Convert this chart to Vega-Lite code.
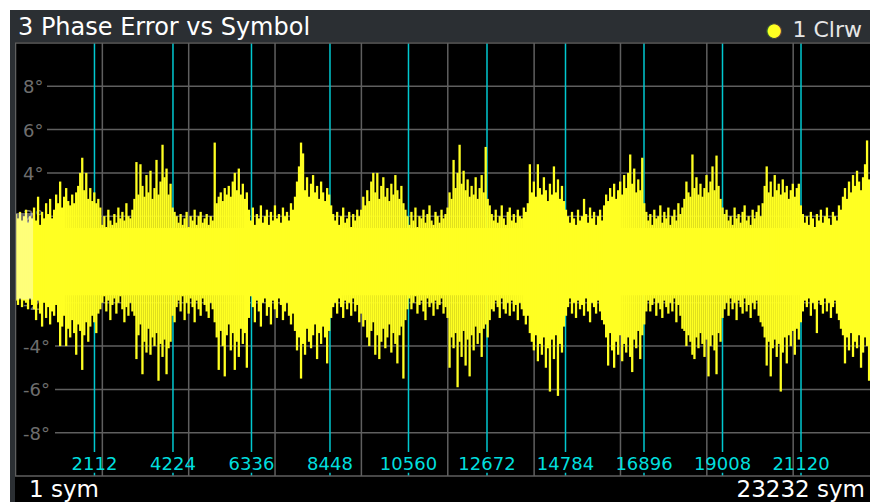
{
  "$schema": "https://vega.github.io/schema/vega-lite/v6.json",
  "background": "#ffffff",
  "padding": {"left": 10, "top": 10, "right": 0, "bottom": 0},
  "config": {"view": {"stroke": null}, "font": "DejaVu Sans"},
  "spacing": 0,
  "bounds": "flush",
  "datasets": {
    "hgrid": [
      {"deg": 8, "label": "8°"}, {"deg": 6, "label": "6°"}, {"deg": 4, "label": "4°"}, {"deg": 2, "label": "2°"}, {"deg": 0, "label": "0°"},
      {"deg": -2, "label": "-2°"}, {"deg": -4, "label": "-4°"}, {"deg": -6, "label": "-6°"}, {"deg": -8, "label": "-8°"}
    ],
    "vgrid": [{"sym": 2324}, {"sym": 4647}, {"sym": 6970}, {"sym": 9293}, {"sym": 11617}, {"sym": 13940}, {"sym": 16263}, {"sym": 18586}, {"sym": 20909}],
    "markers": [{"sym": 2112}, {"sym": 4224}, {"sym": 6336}, {"sym": 8448}, {"sym": 10560}, {"sym": 12672}, {"sym": 14784}, {"sym": 16896}, {"sym": 19008}, {"sym": 21120}],
    "trace": [
      {"sym":1,"hi":2.1,"lo":-1.9},{"sym":55,"hi":1.9,"lo":-2.1},{"sym":109,"hi":2.2,"lo":-1.8},{"sym":163,"hi":1.8,"lo":-2.2},{"sym":217,"hi":2.0,"lo":-1.9},{"sym":271,"hi":2.3,"lo":-2.0},{"sym":325,"hi":1.7,"lo":-2.3},{"sym":379,"hi":2.0,"lo":-1.8},{"sym":433,"hi":1.9,"lo":-2.1},{"sym":487,"hi":2.4,"lo":-2.3},
      {"sym":541,"hi":1.8,"lo":-2.8},{"sym":595,"hi":2.9,"lo":-1.9},{"sym":649,"hi":1.6,"lo":-2.5},{"sym":703,"hi":2.2,"lo":-3.1},{"sym":757,"hi":1.9,"lo":-2.0},{"sym":811,"hi":2.6,"lo":-2.7},{"sym":865,"hi":2.1,"lo":-2.2},{"sym":919,"hi":2.8,"lo":-3.0},{"sym":973,"hi":1.9,"lo":-2.4},{"sym":1027,"hi":2.3,"lo":-2.6},
      {"sym":1081,"hi":3.0,"lo":-2.1},{"sym":1135,"hi":2.6,"lo":-2.9},{"sym":1189,"hi":3.6,"lo":-4.0},{"sym":1243,"hi":2.4,"lo":-3.1},{"sym":1297,"hi":2.9,"lo":-2.6},{"sym":1351,"hi":3.3,"lo":-4.0},{"sym":1405,"hi":2.7,"lo":-3.2},{"sym":1459,"hi":2.5,"lo":-3.6},{"sym":1513,"hi":3.0,"lo":-2.8},{"sym":1567,"hi":2.6,"lo":-3.4},
      {"sym":1621,"hi":3.1,"lo":-4.4},{"sym":1675,"hi":3.4,"lo":-3.0},{"sym":1729,"hi":4.0,"lo":-3.3},{"sym":1783,"hi":4.7,"lo":-5.1},{"sym":1837,"hi":3.2,"lo":-3.5},{"sym":1891,"hi":4.0,"lo":-2.9},{"sym":1945,"hi":2.8,"lo":-3.8},{"sym":1999,"hi":3.3,"lo":-3.1},{"sym":2053,"hi":2.7,"lo":-2.6},{"sym":2107,"hi":3.1,"lo":-2.9},
      {"sym":2161,"hi":2.6,"lo":-3.4},{"sym":2215,"hi":2.8,"lo":-2.5},{"sym":2269,"hi":2.4,"lo":-2.3},{"sym":2323,"hi":1.6,"lo":-2.0},{"sym":2377,"hi":2.0,"lo":-1.7},{"sym":2431,"hi":1.5,"lo":-2.4},{"sym":2485,"hi":2.3,"lo":-1.9},{"sym":2539,"hi":1.8,"lo":-2.8},{"sym":2593,"hi":1.6,"lo":-2.1},{"sym":2647,"hi":2.1,"lo":-1.8},
      {"sym":2701,"hi":1.7,"lo":-2.5},{"sym":2755,"hi":2.4,"lo":-2.0},{"sym":2809,"hi":1.9,"lo":-1.7},{"sym":2863,"hi":2.2,"lo":-2.3},{"sym":2917,"hi":1.8,"lo":-2.9},{"sym":2971,"hi":2.6,"lo":-2.2},{"sym":3025,"hi":2.0,"lo":-2.6},{"sym":3079,"hi":1.9,"lo":-2.0},{"sym":3133,"hi":2.3,"lo":-2.4},{"sym":3187,"hi":2.8,"lo":-2.6},
      {"sym":3241,"hi":4.5,"lo":-4.6},{"sym":3295,"hi":3.0,"lo":-3.5},{"sym":3349,"hi":4.4,"lo":-3.0},{"sym":3403,"hi":3.4,"lo":-5.3},{"sym":3457,"hi":2.9,"lo":-3.8},{"sym":3511,"hi":3.9,"lo":-4.3},{"sym":3565,"hi":3.1,"lo":-3.2},{"sym":3619,"hi":4.1,"lo":-4.4},{"sym":3673,"hi":2.8,"lo":-3.6},{"sym":3727,"hi":3.3,"lo":-4.0},
      {"sym":3781,"hi":4.6,"lo":-3.4},{"sym":3835,"hi":3.0,"lo":-5.6},{"sym":3889,"hi":3.6,"lo":-3.9},{"sym":3943,"hi":5.3,"lo":-4.5},{"sym":3997,"hi":3.8,"lo":-3.7},{"sym":4051,"hi":4.2,"lo":-5.3},{"sym":4105,"hi":3.0,"lo":-4.1},{"sym":4159,"hi":3.5,"lo":-3.8},{"sym":4213,"hi":2.4,"lo":-2.6},{"sym":4267,"hi":2.2,"lo":-2.9},
      {"sym":4321,"hi":2.0,"lo":-2.2},{"sym":4375,"hi":1.7,"lo":-1.9},{"sym":4429,"hi":2.1,"lo":-2.4},{"sym":4483,"hi":1.6,"lo":-1.7},{"sym":4537,"hi":1.9,"lo":-2.8},{"sym":4591,"hi":2.2,"lo":-2.0},{"sym":4645,"hi":1.5,"lo":-2.5},{"sym":4699,"hi":2.0,"lo":-1.8},{"sym":4753,"hi":1.8,"lo":-2.2},{"sym":4807,"hi":2.3,"lo":-2.9},
      {"sym":4861,"hi":1.6,"lo":-1.9},{"sym":4915,"hi":2.0,"lo":-2.3},{"sym":4969,"hi":2.2,"lo":-2.6},{"sym":5023,"hi":1.7,"lo":-1.8},{"sym":5077,"hi":1.9,"lo":-2.1},{"sym":5131,"hi":2.1,"lo":-2.4},{"sym":5185,"hi":1.6,"lo":-2.7},{"sym":5239,"hi":2.0,"lo":-2.0},{"sym":5293,"hi":1.8,"lo":-2.3},{"sym":5347,"hi":5.4,"lo":-2.9},
      {"sym":5401,"hi":2.6,"lo":-3.6},{"sym":5455,"hi":2.9,"lo":-5.1},{"sym":5509,"hi":3.1,"lo":-3.3},{"sym":5563,"hi":2.7,"lo":-4.0},{"sym":5617,"hi":3.3,"lo":-5.4},{"sym":5671,"hi":3.0,"lo":-3.5},{"sym":5725,"hi":3.4,"lo":-3.0},{"sym":5779,"hi":2.9,"lo":-4.2},{"sym":5833,"hi":3.6,"lo":-3.4},{"sym":5887,"hi":4.0,"lo":-5.1},
      {"sym":5941,"hi":3.2,"lo":-3.8},{"sym":5995,"hi":4.2,"lo":-4.5},{"sym":6049,"hi":3.0,"lo":-3.2},{"sym":6103,"hi":3.5,"lo":-3.9},{"sym":6157,"hi":2.8,"lo":-3.4},{"sym":6211,"hi":3.1,"lo":-5.0},{"sym":6265,"hi":2.3,"lo":-2.7},{"sym":6319,"hi":1.8,"lo":-1.7},{"sym":6373,"hi":2.4,"lo":-2.2},{"sym":6427,"hi":1.6,"lo":-2.9},
      {"sym":6481,"hi":2.1,"lo":-1.9},{"sym":6535,"hi":1.9,"lo":-2.4},{"sym":6589,"hi":2.5,"lo":-3.1},{"sym":6643,"hi":1.7,"lo":-2.0},{"sym":6697,"hi":2.0,"lo":-1.8},{"sym":6751,"hi":2.3,"lo":-2.6},{"sym":6805,"hi":1.6,"lo":-2.2},{"sym":6859,"hi":2.2,"lo":-3.0},{"sym":6913,"hi":1.8,"lo":-1.9},{"sym":6967,"hi":2.5,"lo":-2.3},
      {"sym":7021,"hi":1.9,"lo":-2.7},{"sym":7075,"hi":2.1,"lo":-1.8},{"sym":7129,"hi":1.7,"lo":-2.1},{"sym":7183,"hi":2.4,"lo":-2.8},{"sym":7237,"hi":2.0,"lo":-2.4},{"sym":7291,"hi":2.2,"lo":-2.0},{"sym":7345,"hi":1.8,"lo":-2.6},{"sym":7399,"hi":2.6,"lo":-3.0},{"sym":7453,"hi":2.3,"lo":-2.5},{"sym":7507,"hi":2.9,"lo":-3.3},
      {"sym":7561,"hi":3.6,"lo":-4.2},{"sym":7615,"hi":4.3,"lo":-3.6},{"sym":7669,"hi":5.4,"lo":-5.5},{"sym":7723,"hi":4.9,"lo":-3.9},{"sym":7777,"hi":3.2,"lo":-4.4},{"sym":7831,"hi":3.8,"lo":-3.2},{"sym":7885,"hi":2.9,"lo":-3.8},{"sym":7939,"hi":3.5,"lo":-4.1},{"sym":7993,"hi":3.9,"lo":-3.5},{"sym":8047,"hi":3.1,"lo":-3.0},
      {"sym":8101,"hi":3.4,"lo":-4.6},{"sym":8155,"hi":2.8,"lo":-3.4},{"sym":8209,"hi":3.6,"lo":-3.9},{"sym":8263,"hi":3.1,"lo":-3.1},{"sym":8317,"hi":2.7,"lo":-3.6},{"sym":8371,"hi":3.3,"lo":-4.8},{"sym":8425,"hi":3.0,"lo":-3.3},{"sym":8479,"hi":2.5,"lo":-2.7},{"sym":8533,"hi":2.1,"lo":-2.2},{"sym":8587,"hi":1.8,"lo":-2.0},
      {"sym":8641,"hi":2.2,"lo":-2.5},{"sym":8695,"hi":1.6,"lo":-1.8},{"sym":8749,"hi":2.0,"lo":-2.2},{"sym":8803,"hi":2.4,"lo":-2.7},{"sym":8857,"hi":1.7,"lo":-1.9},{"sym":8911,"hi":1.9,"lo":-2.3},{"sym":8965,"hi":2.2,"lo":-2.0},{"sym":9019,"hi":1.5,"lo":-2.6},{"sym":9073,"hi":2.1,"lo":-1.8},{"sym":9127,"hi":1.8,"lo":-2.4},
      {"sym":9181,"hi":2.3,"lo":-2.1},{"sym":9235,"hi":2.0,"lo":-2.9},{"sym":9289,"hi":2.3,"lo":-2.5},{"sym":9343,"hi":2.9,"lo":-3.1},{"sym":9397,"hi":2.5,"lo":-2.8},{"sym":9451,"hi":3.2,"lo":-3.6},{"sym":9505,"hi":2.7,"lo":-4.0},{"sym":9559,"hi":3.6,"lo":-3.3},{"sym":9613,"hi":4.0,"lo":-2.9},{"sym":9667,"hi":3.1,"lo":-4.4},
      {"sym":9721,"hi":4.0,"lo":-3.5},{"sym":9775,"hi":2.8,"lo":-4.6},{"sym":9829,"hi":3.4,"lo":-3.8},{"sym":9883,"hi":3.8,"lo":-3.2},{"sym":9937,"hi":2.9,"lo":-4.1},{"sym":9991,"hi":3.3,"lo":-3.6},{"sym":10045,"hi":2.7,"lo":-3.0},{"sym":10099,"hi":3.5,"lo":-4.3},{"sym":10153,"hi":3.0,"lo":-3.4},{"sym":10207,"hi":3.9,"lo":-3.9},
      {"sym":10261,"hi":3.2,"lo":-4.8},{"sym":10315,"hi":2.8,"lo":-3.5},{"sym":10369,"hi":3.4,"lo":-3.1},{"sym":10423,"hi":2.6,"lo":-5.5},{"sym":10477,"hi":2.3,"lo":-2.8},{"sym":10531,"hi":2.0,"lo":-2.3},{"sym":10585,"hi":1.6,"lo":-1.8},{"sym":10639,"hi":2.2,"lo":-2.3},{"sym":10693,"hi":1.8,"lo":-2.0},{"sym":10747,"hi":2.4,"lo":-1.7},
      {"sym":10801,"hi":1.5,"lo":-2.5},{"sym":10855,"hi":2.0,"lo":-2.1},{"sym":10909,"hi":1.9,"lo":-1.9},{"sym":10963,"hi":2.3,"lo":-2.4},{"sym":11017,"hi":1.7,"lo":-2.8},{"sym":11071,"hi":2.1,"lo":-1.8},{"sym":11125,"hi":2.5,"lo":-2.2},{"sym":11179,"hi":1.8,"lo":-2.0},{"sym":11233,"hi":1.6,"lo":-2.6},{"sym":11287,"hi":2.2,"lo":-1.9},
      {"sym":11341,"hi":2.0,"lo":-2.3},{"sym":11395,"hi":1.7,"lo":-2.1},{"sym":11449,"hi":2.3,"lo":-1.8},{"sym":11503,"hi":1.9,"lo":-2.5},{"sym":11557,"hi":2.1,"lo":-2.2},{"sym":11611,"hi":2.4,"lo":-2.7},{"sym":11665,"hi":3.1,"lo":-5.0},{"sym":11719,"hi":2.8,"lo":-3.6},{"sym":11773,"hi":4.6,"lo":-4.1},{"sym":11827,"hi":3.3,"lo":-3.4},
      {"sym":11881,"hi":4.0,"lo":-5.9},{"sym":11935,"hi":5.3,"lo":-3.8},{"sym":11989,"hi":3.5,"lo":-4.5},{"sym":12043,"hi":4.1,"lo":-3.3},{"sym":12097,"hi":3.2,"lo":-4.9},{"sym":12151,"hi":3.7,"lo":-3.7},{"sym":12205,"hi":2.9,"lo":-5.4},{"sym":12259,"hi":3.4,"lo":-3.5},{"sym":12313,"hi":3.0,"lo":-4.2},{"sym":12367,"hi":3.8,"lo":-3.1},
      {"sym":12421,"hi":2.8,"lo":-3.9},{"sym":12475,"hi":3.3,"lo":-3.4},{"sym":12529,"hi":3.9,"lo":-4.5},{"sym":12583,"hi":3.1,"lo":-3.2},{"sym":12637,"hi":5.2,"lo":-3.0},{"sym":12691,"hi":2.8,"lo":-3.6},{"sym":12745,"hi":2.5,"lo":-2.8},{"sym":12799,"hi":2.1,"lo":-2.3},{"sym":12853,"hi":1.8,"lo":-2.4},{"sym":12907,"hi":2.3,"lo":-1.9},
      {"sym":12961,"hi":1.7,"lo":-2.2},{"sym":13015,"hi":2.0,"lo":-2.7},{"sym":13069,"hi":2.5,"lo":-1.8},{"sym":13123,"hi":1.9,"lo":-2.3},{"sym":13177,"hi":1.6,"lo":-2.5},{"sym":13231,"hi":2.2,"lo":-2.0},{"sym":13285,"hi":2.4,"lo":-2.6},{"sym":13339,"hi":1.8,"lo":-1.9},{"sym":13393,"hi":2.1,"lo":-2.4},{"sym":13447,"hi":1.7,"lo":-2.1},
      {"sym":13501,"hi":2.3,"lo":-2.8},{"sym":13555,"hi":2.0,"lo":-2.0},{"sym":13609,"hi":1.9,"lo":-2.3},{"sym":13663,"hi":2.4,"lo":-2.6},{"sym":13717,"hi":2.2,"lo":-3.0},{"sym":13771,"hi":2.6,"lo":-2.6},{"sym":13825,"hi":4.4,"lo":-3.4},{"sym":13879,"hi":3.1,"lo":-3.8},{"sym":13933,"hi":3.6,"lo":-4.2},{"sym":13987,"hi":2.9,"lo":-3.5},
      {"sym":14041,"hi":4.4,"lo":-4.7},{"sym":14095,"hi":3.3,"lo":-3.9},{"sym":14149,"hi":3.0,"lo":-4.4},{"sym":14203,"hi":3.8,"lo":-3.6},{"sym":14257,"hi":3.2,"lo":-5.0},{"sym":14311,"hi":2.7,"lo":-4.1},{"sym":14365,"hi":3.5,"lo":-6.1},{"sym":14419,"hi":3.0,"lo":-3.7},{"sym":14473,"hi":4.3,"lo":-4.6},{"sym":14527,"hi":3.1,"lo":-3.5},
      {"sym":14581,"hi":3.7,"lo":-6.3},{"sym":14635,"hi":2.8,"lo":-3.9},{"sym":14689,"hi":3.4,"lo":-4.3},{"sym":14743,"hi":2.7,"lo":-3.1},{"sym":14797,"hi":2.3,"lo":-2.6},{"sym":14851,"hi":2.0,"lo":-2.2},{"sym":14905,"hi":1.7,"lo":-1.8},{"sym":14959,"hi":2.2,"lo":-2.5},{"sym":15013,"hi":1.9,"lo":-2.0},{"sym":15067,"hi":1.6,"lo":-2.7},
      {"sym":15121,"hi":2.3,"lo":-1.9},{"sym":15175,"hi":1.8,"lo":-2.3},{"sym":15229,"hi":2.0,"lo":-2.1},{"sym":15283,"hi":2.8,"lo":-2.6},{"sym":15337,"hi":2.1,"lo":-1.8},{"sym":15391,"hi":1.7,"lo":-2.4},{"sym":15445,"hi":2.4,"lo":-2.9},{"sym":15499,"hi":1.9,"lo":-2.0},{"sym":15553,"hi":2.2,"lo":-2.2},{"sym":15607,"hi":1.6,"lo":-2.5},
      {"sym":15661,"hi":2.0,"lo":-1.9},{"sym":15715,"hi":2.3,"lo":-2.4},{"sym":15769,"hi":1.8,"lo":-2.8},{"sym":15823,"hi":2.5,"lo":-3.0},{"sym":15877,"hi":3.0,"lo":-3.6},{"sym":15931,"hi":2.7,"lo":-4.9},{"sym":15985,"hi":3.3,"lo":-3.4},{"sym":16039,"hi":2.9,"lo":-4.2},{"sym":16093,"hi":3.5,"lo":-5.0},{"sym":16147,"hi":2.8,"lo":-3.8},
      {"sym":16201,"hi":3.2,"lo":-4.4},{"sym":16255,"hi":3.6,"lo":-3.5},{"sym":16309,"hi":3.0,"lo":-4.7},{"sym":16363,"hi":3.9,"lo":-3.9},{"sym":16417,"hi":3.3,"lo":-4.3},{"sym":16471,"hi":4.0,"lo":-3.6},{"sym":16525,"hi":4.85,"lo":-4.5},{"sym":16579,"hi":3.5,"lo":-5.2},{"sym":16633,"hi":4.2,"lo":-3.7},{"sym":16687,"hi":3.1,"lo":-4.1},
      {"sym":16741,"hi":3.7,"lo":-3.3},{"sym":16795,"hi":3.2,"lo":-4.6},{"sym":16849,"hi":4.7,"lo":-3.5},{"sym":16903,"hi":2.6,"lo":-3.0},{"sym":16957,"hi":2.2,"lo":-2.4},{"sym":17011,"hi":1.8,"lo":-1.9},{"sym":17065,"hi":2.1,"lo":-2.4},{"sym":17119,"hi":1.6,"lo":-2.1},{"sym":17173,"hi":2.3,"lo":-1.8},{"sym":17227,"hi":1.9,"lo":-2.6},
      {"sym":17281,"hi":2.0,"lo":-2.0},{"sym":17335,"hi":2.5,"lo":-2.3},{"sym":17389,"hi":1.7,"lo":-2.7},{"sym":17443,"hi":2.2,"lo":-1.9},{"sym":17497,"hi":1.9,"lo":-2.2},{"sym":17551,"hi":2.4,"lo":-2.5},{"sym":17605,"hi":1.6,"lo":-2.0},{"sym":17659,"hi":2.0,"lo":-2.4},{"sym":17713,"hi":2.3,"lo":-1.8},{"sym":17767,"hi":1.8,"lo":-2.9},
      {"sym":17821,"hi":2.6,"lo":-2.1},{"sym":17875,"hi":2.1,"lo":-2.6},{"sym":17929,"hi":2.4,"lo":-3.2},{"sym":17983,"hi":2.8,"lo":-3.3},{"sym":18037,"hi":3.6,"lo":-4.0},{"sym":18091,"hi":3.1,"lo":-3.5},{"sym":18145,"hi":2.9,"lo":-3.8},{"sym":18199,"hi":4.85,"lo":-4.4},{"sym":18253,"hi":3.3,"lo":-4.6},{"sym":18307,"hi":3.8,"lo":-3.6},
      {"sym":18361,"hi":3.0,"lo":-4.1},{"sym":18415,"hi":3.5,"lo":-3.4},{"sym":18469,"hi":2.9,"lo":-3.9},{"sym":18523,"hi":3.3,"lo":-4.5},{"sym":18577,"hi":3.9,"lo":-3.7},{"sym":18631,"hi":3.1,"lo":-5.4},{"sym":18685,"hi":3.6,"lo":-4.0},{"sym":18739,"hi":4.3,"lo":-3.5},{"sym":18793,"hi":3.2,"lo":-4.2},{"sym":18847,"hi":4.8,"lo":-5.3},
      {"sym":18901,"hi":3.4,"lo":-3.4},{"sym":18955,"hi":2.8,"lo":-3.8},{"sym":19009,"hi":2.4,"lo":-2.7},{"sym":19063,"hi":2.1,"lo":-2.3},{"sym":19117,"hi":2.3,"lo":-2.0},{"sym":19171,"hi":1.8,"lo":-2.6},{"sym":19225,"hi":2.0,"lo":-1.8},{"sym":19279,"hi":1.6,"lo":-2.3},{"sym":19333,"hi":2.4,"lo":-2.0},{"sym":19387,"hi":1.9,"lo":-2.8},
      {"sym":19441,"hi":2.1,"lo":-1.9},{"sym":19495,"hi":1.7,"lo":-2.2},{"sym":19549,"hi":2.2,"lo":-2.5},{"sym":19603,"hi":2.5,"lo":-1.8},{"sym":19657,"hi":1.8,"lo":-2.4},{"sym":19711,"hi":2.0,"lo":-2.1},{"sym":19765,"hi":1.6,"lo":-2.7},{"sym":19819,"hi":2.3,"lo":-2.0},{"sym":19873,"hi":1.9,"lo":-2.3},{"sym":19927,"hi":2.2,"lo":-1.9},
      {"sym":19981,"hi":2.5,"lo":-2.6},{"sym":20035,"hi":2.0,"lo":-2.9},{"sym":20089,"hi":2.6,"lo":-3.1},{"sym":20143,"hi":3.4,"lo":-3.6},{"sym":20197,"hi":4.3,"lo":-4.9},{"sym":20251,"hi":3.1,"lo":-3.8},{"sym":20305,"hi":3.6,"lo":-5.4},{"sym":20359,"hi":2.9,"lo":-4.1},{"sym":20413,"hi":3.9,"lo":-3.7},{"sym":20467,"hi":3.2,"lo":-4.5},
      {"sym":20521,"hi":3.5,"lo":-3.9},{"sym":20575,"hi":3.0,"lo":-6.1},{"sym":20629,"hi":3.7,"lo":-4.3},{"sym":20683,"hi":3.1,"lo":-3.6},{"sym":20737,"hi":3.4,"lo":-4.8},{"sym":20791,"hi":2.8,"lo":-3.5},{"sym":20845,"hi":3.2,"lo":-4.0},{"sym":20899,"hi":3.5,"lo":-3.3},{"sym":20953,"hi":2.9,"lo":-4.4},{"sym":21007,"hi":3.3,"lo":-3.2},
      {"sym":21061,"hi":3.5,"lo":-3.7},{"sym":21115,"hi":2.5,"lo":-2.9},{"sym":21169,"hi":2.1,"lo":-2.4},{"sym":21223,"hi":1.7,"lo":-1.9},{"sym":21277,"hi":2.0,"lo":-2.2},{"sym":21331,"hi":1.6,"lo":-1.8},{"sym":21385,"hi":2.2,"lo":-2.6},{"sym":21439,"hi":1.9,"lo":-2.0},{"sym":21493,"hi":1.5,"lo":-2.3},{"sym":21547,"hi":2.1,"lo":-3.4},
      {"sym":21601,"hi":1.8,"lo":-1.9},{"sym":21655,"hi":2.3,"lo":-2.1},{"sym":21709,"hi":1.7,"lo":-2.5},{"sym":21763,"hi":2.0,"lo":-1.8},{"sym":21817,"hi":2.4,"lo":-2.4},{"sym":21871,"hi":1.9,"lo":-2.0},{"sym":21925,"hi":1.6,"lo":-2.7},{"sym":21979,"hi":2.2,"lo":-2.2},{"sym":22033,"hi":2.0,"lo":-1.9},{"sym":22087,"hi":1.8,"lo":-2.5},
      {"sym":22141,"hi":2.5,"lo":-2.8},{"sym":22195,"hi":2.3,"lo":-3.2},{"sym":22249,"hi":2.9,"lo":-3.5},{"sym":22303,"hi":3.3,"lo":-4.8},{"sym":22357,"hi":2.8,"lo":-3.6},{"sym":22411,"hi":3.6,"lo":-4.2},{"sym":22465,"hi":3.1,"lo":-3.4},{"sym":22519,"hi":3.9,"lo":-4.5},{"sym":22573,"hi":3.4,"lo":-3.8},{"sym":22627,"hi":4.1,"lo":-4.1},
      {"sym":22681,"hi":3.6,"lo":-3.5},{"sym":22735,"hi":3.2,"lo":-5.0},{"sym":22789,"hi":3.8,"lo":-4.3},{"sym":22843,"hi":4.4,"lo":-3.6},{"sym":22897,"hi":5.5,"lo":-4.0},{"sym":22951,"hi":3.7,"lo":-5.6},{"sym":23005,"hi":3.3,"lo":-3.9}
    ]
  },
  "vconcat": [
    {
      "width": 860,
      "height": 32,
      "view": {"fill": "#2b2f33", "stroke": null},
      "layer": [
        {
          "data": {"values": [{"t": "3 Phase Error vs Symbol"}]},
          "mark": {"type": "text", "align": "left", "baseline": "alphabetic", "dx": 8, "dy": -7, "fontSize": 24, "color": "#ffffff"},
          "encoding": {
            "x": {"datum": 0, "type": "quantitative", "scale": {"domain": [0, 1], "nice": false, "zero": false}, "axis": null},
            "y": {"datum": 0, "type": "quantitative", "scale": {"domain": [0, 1], "nice": false, "zero": false}, "axis": null},
            "text": {"field": "t"}
          }
        },
        {
          "data": {"values": [{"t": "●"}]},
          "mark": {"type": "text", "align": "center", "baseline": "middle", "dx": -96, "dy": -12, "fontSize": 19, "color": "#ffff22", "stroke": "#3a3a3a", "strokeWidth": 1},
          "encoding": {
            "x": {"datum": 1, "type": "quantitative", "scale": {"domain": [0, 1], "nice": false, "zero": false}, "axis": null},
            "y": {"datum": 0, "type": "quantitative", "scale": {"domain": [0, 1], "nice": false, "zero": false}, "axis": null},
            "text": {"field": "t"}
          }
        },
        {
          "data": {"values": [{"t": "1 Clrw"}]},
          "mark": {"type": "text", "align": "right", "baseline": "alphabetic", "dx": -8, "dy": -5.5, "fontSize": 22, "color": "#e6e6e6"},
          "encoding": {
            "x": {"datum": 1, "type": "quantitative", "scale": {"domain": [0, 1], "nice": false, "zero": false}, "axis": null},
            "y": {"datum": 0, "type": "quantitative", "scale": {"domain": [0, 1], "nice": false, "zero": false}, "axis": null},
            "text": {"field": "t"}
          }
        }
      ]
    },
    {
      "spacing": 0,
      "bounds": "flush",
      "hconcat": [
        {
          "width": 5,
          "height": 460,
          "view": {"fill": "#2b2f33", "stroke": null},
          "data": {"values": [{}]},
          "mark": {"type": "text", "text": ""}
        },
        {
          "width": 855,
          "height": 460,
          "view": {"fill": "#000000", "stroke": null},
          "layer": [
            {
              "data": {"name": "hgrid"},
              "transform": [{"filter": "datum.deg >= 0"}],
              "mark": {"type": "rule", "color": "#5f5f5f", "strokeWidth": 1.5, "clip": true},
              "encoding": {
                "x": {"datum": 835, "type": "quantitative", "scale": {"domain": [-26, 22976], "nice": false, "zero": false}, "axis": null},
                "x2": {"datum": 22976},
                "y": {"field": "deg", "type": "quantitative", "scale": {"domain": [-11.201, 10.046], "nice": false, "zero": false}, "axis": null}
              }
            },
            {
              "data": {"name": "hgrid"},
              "transform": [{"filter": "datum.deg < 0"}],
              "mark": {"type": "rule", "color": "#5f5f5f", "strokeWidth": 1.5, "clip": true},
              "encoding": {
                "x": {"datum": 1050, "type": "quantitative", "scale": {"domain": [-26, 22976], "nice": false, "zero": false}, "axis": null},
                "x2": {"datum": 22976},
                "y": {"field": "deg", "type": "quantitative", "scale": {"domain": [-11.201, 10.046], "nice": false, "zero": false}, "axis": null}
              }
            },
            {
              "data": {"name": "vgrid"},
              "mark": {"type": "rule", "color": "#5f5f5f", "strokeWidth": 1.5, "clip": true},
              "encoding": {
                "x": {"field": "sym", "type": "quantitative", "scale": {"domain": [-26, 22976], "nice": false, "zero": false}, "axis": null},
                "y": {"datum": -10, "type": "quantitative", "scale": {"domain": [-11.201, 10.046], "nice": false, "zero": false}, "axis": null},
                "y2": {"datum": 10}
              }
            },
            {
              "data": {"name": "hgrid"},
              "mark": {"type": "text", "align": "left", "baseline": "middle", "dx": 8, "dy": 2, "fontSize": 18, "color": "#6e6e6e", "clip": true},
              "encoding": {
                "x": {"datum": -26, "type": "quantitative", "scale": {"domain": [-26, 22976], "nice": false, "zero": false}, "axis": null},
                "y": {"field": "deg", "type": "quantitative", "scale": {"domain": [-11.201, 10.046], "nice": false, "zero": false}, "axis": null},
                "text": {"field": "label"}
              }
            },
            {
              "data": {"name": "markers"},
              "mark": {"type": "rule", "color": "#00c8d0", "strokeWidth": 1.5, "clip": true},
              "encoding": {
                "x": {"field": "sym", "type": "quantitative", "scale": {"domain": [-26, 22976], "nice": false, "zero": false}, "axis": null},
                "y": {"datum": -8.89, "type": "quantitative", "scale": {"domain": [-11.201, 10.046], "nice": false, "zero": false}, "axis": null},
                "y2": {"datum": 10}
              }
            },
            {
              "data": {"name": "markers"},
              "mark": {"type": "rule", "color": "#00c8d0", "strokeWidth": 1.5, "clip": true},
              "encoding": {
                "x": {"field": "sym", "type": "quantitative", "scale": {"domain": [-26, 22976], "nice": false, "zero": false}, "axis": null},
                "y": {"datum": -10, "type": "quantitative", "scale": {"domain": [-11.201, 10.046], "nice": false, "zero": false}, "axis": null},
                "y2": {"datum": -9.85}
              }
            },
            {
              "data": {"values": [{}]},
              "mark": {"type": "rect", "color": "#ffff22", "clip": true},
              "encoding": {
                "x": {"datum": 1, "type": "quantitative", "scale": {"domain": [-26, 22976], "nice": false, "zero": false}, "axis": null},
                "x2": {"datum": 22976},
                "y": {"datum": 1.45, "type": "quantitative", "scale": {"domain": [-11.201, 10.046], "nice": false, "zero": false}, "axis": null},
                "y2": {"datum": -1.65}
              }
            },
            {
              "data": {"name": "trace"},
              "mark": {"type": "rule", "color": "#ffff22", "strokeWidth": 2.3, "clip": true},
              "encoding": {
                "x": {"field": "sym", "type": "quantitative", "scale": {"domain": [-26, 22976], "nice": false, "zero": false}, "axis": null},
                "y": {"field": "lo", "type": "quantitative", "scale": {"domain": [-11.201, 10.046], "nice": false, "zero": false}, "axis": null},
                "y2": {"field": "hi"}
              }
            },
            {
              "data": {"values": [{}]},
              "mark": {"type": "rect", "color": "#ffffff", "opacity": 0.4, "clip": true},
              "encoding": {
                "x": {"datum": 1, "type": "quantitative", "scale": {"domain": [-26, 22976], "nice": false, "zero": false}, "axis": null},
                "x2": {"datum": 460},
                "y": {"datum": 2.15, "type": "quantitative", "scale": {"domain": [-11.201, 10.046], "nice": false, "zero": false}, "axis": null},
                "y2": {"datum": -1.85}
              }
            },
            {
              "data": {"values": [{}]},
              "mark": {"type": "rule", "color": "#5f5f5f", "strokeWidth": 1.5, "clip": true},
              "encoding": {
                "x": {"datum": -26, "type": "quantitative", "scale": {"domain": [-26, 22976], "nice": false, "zero": false}, "axis": null},
                "x2": {"datum": 22976},
                "y": {"datum": 10, "type": "quantitative", "scale": {"domain": [-11.201, 10.046], "nice": false, "zero": false}, "axis": null}
              }
            },
            {
              "data": {"values": [{}]},
              "mark": {"type": "rule", "color": "#5f5f5f", "strokeWidth": 1.5, "clip": true},
              "encoding": {
                "x": {"datum": -26, "type": "quantitative", "scale": {"domain": [-26, 22976], "nice": false, "zero": false}, "axis": null},
                "x2": {"datum": 22976},
                "y": {"datum": -10, "type": "quantitative", "scale": {"domain": [-11.201, 10.046], "nice": false, "zero": false}, "axis": null}
              }
            },
            {
              "data": {"values": [{}]},
              "mark": {"type": "rule", "color": "#5f5f5f", "strokeWidth": 1.5, "clip": true},
              "encoding": {
                "x": {"datum": -12, "type": "quantitative", "scale": {"domain": [-26, 22976], "nice": false, "zero": false}, "axis": null},
                "y": {"datum": -10, "type": "quantitative", "scale": {"domain": [-11.201, 10.046], "nice": false, "zero": false}, "axis": null},
                "y2": {"datum": 10}
              }
            },
            {
              "data": {"name": "markers"},
              "mark": {"type": "text", "align": "center", "baseline": "alphabetic", "fontSize": 18, "color": "#00dede", "clip": true},
              "encoding": {
                "x": {"field": "sym", "type": "quantitative", "scale": {"domain": [-26, 22976], "nice": false, "zero": false}, "axis": null},
                "y": {"datum": -9.72, "type": "quantitative", "scale": {"domain": [-11.201, 10.046], "nice": false, "zero": false}, "axis": null},
                "text": {"field": "sym", "type": "nominal"}
              }
            },
            {
              "data": {"values": [{"t": "1 sym"}]},
              "mark": {"type": "text", "align": "left", "baseline": "alphabetic", "dx": 14, "fontSize": 23, "color": "#ffffff", "clip": true},
              "encoding": {
                "x": {"datum": -26, "type": "quantitative", "scale": {"domain": [-26, 22976], "nice": false, "zero": false}, "axis": null},
                "y": {"datum": -10.97, "type": "quantitative", "scale": {"domain": [-11.201, 10.046], "nice": false, "zero": false}, "axis": null},
                "text": {"field": "t"}
              }
            },
            {
              "data": {"values": [{"t": "23232 sym"}]},
              "mark": {"type": "text", "align": "right", "baseline": "alphabetic", "dx": -5, "fontSize": 23, "color": "#ffffff", "clip": true},
              "encoding": {
                "x": {"datum": 22976, "type": "quantitative", "scale": {"domain": [-26, 22976], "nice": false, "zero": false}, "axis": null},
                "y": {"datum": -10.99, "type": "quantitative", "scale": {"domain": [-11.201, 10.046], "nice": false, "zero": false}, "axis": null},
                "text": {"field": "t"}
              }
            }
          ]
        }
      ]
    }
  ]
}
